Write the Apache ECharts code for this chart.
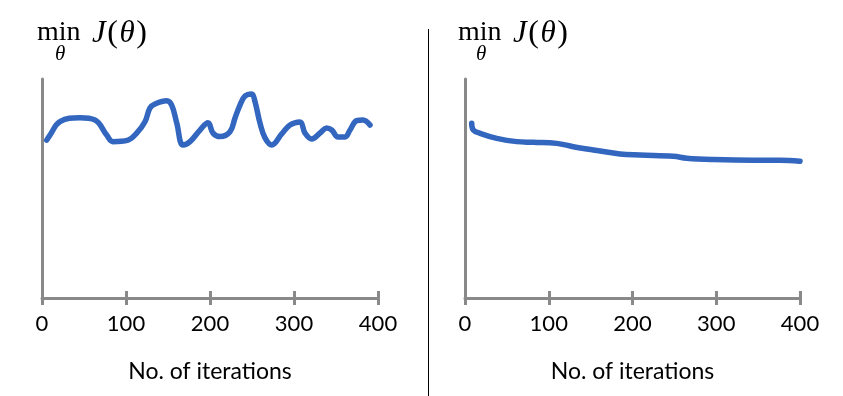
<!DOCTYPE html>
<html><head><meta charset="utf-8">
<script src="https://cdn.jsdelivr.net/npm/echarts@6/dist/echarts.min.js"></script>
<style>html,body{margin:0;padding:0;background:#fff}#c{width:843px;height:396px}</style>
</head><body><div id="c"></div>
<script>
// Left panel: noisy minimum of J(theta)
const leftIter = [5.6,9.5,21.4,45.2,63.1,77.0,84.5,102.4,112.7,122.6,128.6,134.5,148.5,154.4,160.4,167.9,176.2,188.1,197.6,203.6,211.9,223.8,229.8,235.7,241.7,249.6,253.6,259.5,265.5,273.5,285.4,295.2,307.1,313.1,321.1,331.0,338.9,344.9,352.4,360.7,366.7,374.6,382.1,390.5];
const leftJ = [72.1,74.4,80.5,82.3,81.3,74.4,71.4,72.1,75.3,80.5,86.8,88.6,90.1,88.1,79.9,69.9,71.4,76.7,80.0,75.3,73.7,75.9,82.2,88.1,92.2,93.2,89.6,79.9,73.1,69.9,74.9,79.0,80.4,75.3,72.6,75.3,77.6,76.7,73.5,73.5,76.7,81.0,81.3,79.0];
// Right panel: smoothly decreasing minimum of J(theta)
const rightIter = [8.0,9.9,17.9,37.9,61.7,81.6,109.5,129.3,153.2,185.1,209.0,248.7,264.7,296.5,344.2,376.1,400];
const rightJ = [79.8,76.7,75.2,72.9,71.4,71.1,70.6,69.1,67.6,65.8,65.3,64.7,63.8,63.2,62.9,62.9,62.4];
const xTicks = [0,100,200,300,400];
const xName = 'No. of iterations';

const AX = '#898989', LINE = '#3366bf';
const labelFont = {color:'#000', fontFamily:'Lato', fontSize:22};
function xAxes(gi){
  return [
    {gridIndex:gi, type:'value', min:xTicks[0], max:xTicks[xTicks.length-1], interval:100, position:'bottom',
     axisLine:{show:true, lineStyle:{color:AX, width:3}},
     axisTick:{show:true, length:7, lineStyle:{color:AX, width:3}},
     axisLabel:Object.assign({margin:15}, labelFont),
     splitLine:{show:false},
     name:xName, nameLocation:'middle', nameGap:62,
     nameTextStyle:{color:'#000', fontFamily:'Lato', fontSize:23}},
    {gridIndex:gi, type:'value', min:xTicks[0], max:xTicks[xTicks.length-1], interval:100, position:'bottom',
     axisLine:{show:false}, axisTick:{show:true, inside:true, length:7, lineStyle:{color:AX, width:3}},
     axisLabel:{show:false}, splitLine:{show:false}}
  ];
}
function yAxis(gi){
  return {gridIndex:gi, type:'value', min:0, max:100,
    axisLine:{show:true, lineStyle:{color:AX, width:3}}, axisTick:{show:false},
    axisLabel:{show:false}, splitLine:{show:false}};
}
function series(gi, xs, ys){
  return {type:'line', xAxisIndex:gi*2, yAxisIndex:gi, data:xs.map((x,i)=>[x,ys[i]]),
    smooth:0.4, showSymbol:false, symbol:'none',
    lineStyle:{color:LINE, width:5.5, cap:'round', join:'round'}};
}
function title(x){
  return [
    {type:'text', x:x, y:33, style:{text:'min', font:'28px "Liberation Serif"', fill:'#000', verticalAlign:'middle'}},
    {type:'text', x:x+18, y:54, style:{text:'θ', font:'italic 21px "Liberation Serif"', fill:'#000', verticalAlign:'middle'}},
    {type:'text', x:x+55, y:34, style:{text:'{i|J}{r|(}{i|θ}{r|)}', verticalAlign:'middle', fill:'#000',
      rich:{i:{font:'italic 31px "Liberation Serif"', fill:'#000'}, r:{font:'32px "Liberation Serif"', fill:'#000', padding:[0,1.5,0,1.5]}}}}
  ];
}
const chart = echarts.init(document.getElementById('c'), null, {renderer:'canvas'});
chart.setOption({
  backgroundColor:'#fff',
  animation:false,
  grid:[
    {left:42, right:465, top:79, bottom:98},
    {left:465, right:43, top:79, bottom:98}
  ],
  xAxis:[...xAxes(0), ...xAxes(1)],
  yAxis:[yAxis(0), yAxis(1)],
  series:[series(0,leftIter,leftJ), series(1,rightIter,rightJ)],
  graphic:[
    {type:'line', shape:{x1:428.5, y1:29, x2:428.5, y2:396}, style:{stroke:'#000', lineWidth:1}},
    ...title(37), ...title(458)
  ]
});
</script></body></html>
